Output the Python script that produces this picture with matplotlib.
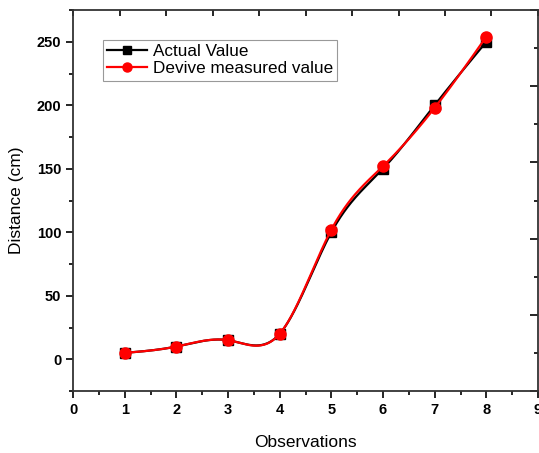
import numpy as np
import matplotlib
matplotlib.use("Agg")
import matplotlib.pyplot as plt
from matplotlib.ticker import MultipleLocator

observations = [1, 2, 3, 4, 5, 6, 7, 8]
actual_value = [5, 10, 15, 20, 100, 150, 200, 250]
measured_value = [5, 10, 15, 20, 102, 152, 198, 254]


def natural_spline(x, y, n=400):
    x = np.asarray(x, float)
    y = np.asarray(y, float)
    m = len(x)
    h = np.diff(x)
    A = np.zeros((m, m))
    b = np.zeros(m)
    A[0, 0] = 1
    A[-1, -1] = 1
    for i in range(1, m - 1):
        A[i, i - 1] = h[i - 1]
        A[i, i] = 2 * (h[i - 1] + h[i])
        A[i, i + 1] = h[i]
        b[i] = 6 * ((y[i + 1] - y[i]) / h[i] - (y[i] - y[i - 1]) / h[i - 1])
    M = np.linalg.solve(A, b)
    xs = np.linspace(x[0], x[-1], n)
    idx = np.clip(np.searchsorted(x, xs) - 1, 0, m - 2)
    x0, x1 = x[idx], x[idx + 1]
    hh = x1 - x0
    ys = (M[idx] * (x1 - xs) ** 3 / (6 * hh) + M[idx + 1] * (xs - x0) ** 3 / (6 * hh)
          + (y[idx] / hh - M[idx] * hh / 6) * (x1 - xs)
          + (y[idx + 1] / hh - M[idx + 1] * hh / 6) * (xs - x0))
    return xs, ys


plt.rcParams['font.family'] = ['Liberation Sans', 'DejaVu Sans']

fig = plt.figure(figsize=(5.39, 4.53), dpi=100)
ax = fig.add_axes([73 / 539, 1 - 391 / 453, (538 - 73) / 539, (391 - 10) / 453])

xs, ys = natural_spline(observations, actual_value)
ax.plot(xs, ys, color='black', lw=1.6, zorder=2)
ax.plot(observations, actual_value, 's', color='black', ms=7, zorder=3)
xs, ys = natural_spline(observations, measured_value)
ax.plot(xs, ys, color='red', lw=1.6, zorder=4)
ax.plot(observations, measured_value, 'o', color='red', ms=8, zorder=5)

ax.plot([], [], '-s', color='black', lw=1.6, ms=6, label='Actual Value')
ax.plot([], [], '-o', color='red', lw=1.6, ms=6.5, label='Devive measured value')

ax.set_xlim(0, 9)
ax.set_ylim(-25, 275)
ax.xaxis.set_major_locator(MultipleLocator(1))
ax.xaxis.set_minor_locator(MultipleLocator(0.5))
ax.set_yticks([0, 50, 100, 150, 200, 250])
ax.yaxis.set_minor_locator(MultipleLocator(25))

for sp in ax.spines.values():
    sp.set_linewidth(1.3)
    sp.set_color('#333333')

ax.tick_params(which='both', direction='out', width=1.2, labelsize=10.5)
ax.tick_params(which='major', length=5)
ax.tick_params(which='minor', length=3)
for lbl in ax.get_xticklabels() + ax.get_yticklabels():
    lbl.set_fontweight('bold')

# mirrored inward ticks on top and right (Origin-style independent scales)
axt = ax.secondary_xaxis('top', functions=(lambda v: v * 10 / 9, lambda u: u * 9 / 10))
axt.xaxis.set_major_locator(MultipleLocator(1))
axt.tick_params(which='both', direction='in', width=1.2, labeltop=False)
axt.tick_params(which='major', length=4)
axt.tick_params(which='minor', length=0)
axt.spines['top'].set_visible(False)

axr = ax.secondary_yaxis('right', functions=(lambda v: (v + 25) / 60, lambda u: u * 60 - 25))
axr.yaxis.set_major_locator(MultipleLocator(1))
axr.yaxis.set_minor_locator(MultipleLocator(0.5))
axr.tick_params(which='both', direction='in', width=1.2, labelright=False)
axr.tick_params(which='major', length=6)
axr.tick_params(which='minor', length=3)
axr.spines['right'].set_visible(False)

ax.set_xlabel('Observations', fontsize=12.5, labelpad=13)
ax.set_ylabel('Distance (cm)', fontsize=12.5, labelpad=9)

leg = ax.legend(loc='upper left', bbox_to_anchor=(30 / 465, 1 - 30 / 381), fontsize=12.3,
                frameon=True, fancybox=False, handlelength=2.3, handletextpad=0.35,
                borderpad=0.25, labelspacing=0.12, borderaxespad=0)
leg.get_frame().set_edgecolor('#808080')
leg.get_frame().set_linewidth(0.8)

fig.savefig('out.png', dpi=100)
